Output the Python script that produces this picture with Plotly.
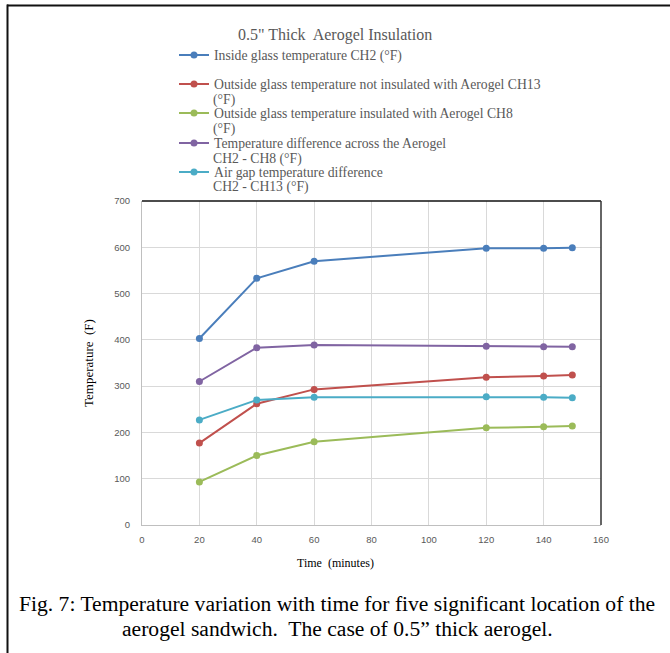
import plotly.graph_objects as go

time_min = [20, 40, 60, 120, 140, 150]
inside_ch2 = [403, 533, 570, 598, 598, 599]
outside_not_ins_ch13 = [177, 262, 293, 319, 322, 324]
outside_ins_ch8 = [93, 150, 180, 210, 212, 214]
diff_aerogel = [310, 383, 389, 386, 385, 385]
diff_airgap = [227, 270, 276, 277, 276, 275]

names = [
    "Inside glass temperature CH2 (°F)",
    "Outside glass temperature not insulated with Aerogel CH13",
    "Outside glass temperature insulated with Aerogel CH8",
    "Temperature difference across the Aerogel",
    "Air gap temperature difference",
]
name_second_lines = ["", "(°F)", "(°F)", "CH2 - CH8 (°F)", "CH2 - CH13 (°F)"]
series = [inside_ch2, outside_not_ins_ch13, outside_ins_ch8, diff_aerogel, diff_airgap]
colors = ["#4A7EBB", "#C0504D", "#9BBB59", "#8064A2", "#4BACC6"]

W, H = 670, 653
L, R, T, B = 142, 69, 201, 128
pw, ph = W - L - R, H - T - B

def px(xp):
    return (xp - L) / pw

def py(yp):
    return (H - B - yp) / ph

serif = "Liberation Serif, Times New Roman, serif"
sans = "Liberation Sans, Arial, sans-serif"
leg_font = dict(family=serif, size=13.7, color="#595959")
leg_y = [55, 84, 113, 143, 172]
leg_keys = ["legend", "legend2", "legend3", "legend4", "legend5"]

fig = go.Figure()
for n, s, c, lk in zip(names, series, colors, leg_keys):
    fig.add_trace(go.Scatter(x=time_min, y=s, name=n, mode="lines+markers", legend=lk,
                             line=dict(color=c, width=2), marker=dict(color=c, size=7)))

layout_legends = {}
for lk, yy in zip(leg_keys, leg_y):
    layout_legends[lk] = dict(x=px(174), y=py(yy), xanchor="left", yanchor="middle",
                              font=leg_font, itemwidth=30, bgcolor="rgba(0,0,0,0)")

fig.update_layout(
    width=W, height=H, margin=dict(l=L, r=R, t=T, b=B),
    paper_bgcolor="white", plot_bgcolor="white",
    showlegend=True,
    xaxis=dict(range=[0, 160], dtick=20, tick0=0, showgrid=True, gridcolor="#D9D9D9",
               gridwidth=1, showline=True, linecolor="#BFBFBF", linewidth=1, zeroline=False,
               ticks="", ticklabelstandoff=6,
               tickfont=dict(family=sans, size=9.5, color="#595959")),
    yaxis=dict(range=[0, 700], dtick=100, tick0=0, showgrid=True, gridcolor="#D9D9D9",
               gridwidth=1, showline=True, linecolor="#BFBFBF", linewidth=1, zeroline=False,
               ticks="", ticklabelstandoff=9,
               tickfont=dict(family=sans, size=9.5, color="#595959")),
    **layout_legends,
)

ann = [
    dict(text='0.5" Thick  Aerogel Insulation', x=px(335), y=py(35),
         font=dict(family=serif, size=16, color="#595959")),
    dict(text="Time  (minutes)", x=px(335), y=py(563),
         font=dict(family=serif, size=12, color="#000000")),
    dict(text="Temperature  (F)", x=px(88), y=py(363), textangle=-90,
         font=dict(family=serif, size=13, color="#000000")),
    dict(text="Fig. 7: Temperature variation with time for five significant location of the",
         x=px(337), y=py(604), font=dict(family=serif, size=21.6, color="#000000")),
    dict(text="aerogel sandwich.  The case of 0.5\u201d thick aerogel.",
         x=px(337), y=py(629), font=dict(family=serif, size=21.6, color="#000000")),
]
for t2, yy in zip(name_second_lines, leg_y):
    if t2:
        ann.append(dict(text=t2, x=px(212), y=py(yy + 15.5), xanchor="left", font=leg_font,
                        borderpad=0))
for a in ann:
    a.setdefault("xanchor", "center")
    a.update(xref="paper", yref="paper", showarrow=False, yanchor="middle")
    fig.add_annotation(**a)

shapes = [
    dict(type="line", x0=px(7), x1=px(672), y0=py(5.5), y1=py(5.5), line=dict(color="#111111", width=2)),
    dict(type="line", x0=px(7.5), x1=px(7.5), y0=py(4.5), y1=py(655), line=dict(color="#111111", width=2)),
    dict(type="line", x0=0, x1=1, y0=1, y1=1, line=dict(color="#111111", width=1.5)),
    dict(type="line", x0=1, x1=1, y0=0, y1=1, line=dict(color="#333333", width=1.5)),
]
for s in shapes:
    s.update(xref="paper", yref="paper", layer="above")
    fig.add_shape(**s)

fig.write_html("out.html")
